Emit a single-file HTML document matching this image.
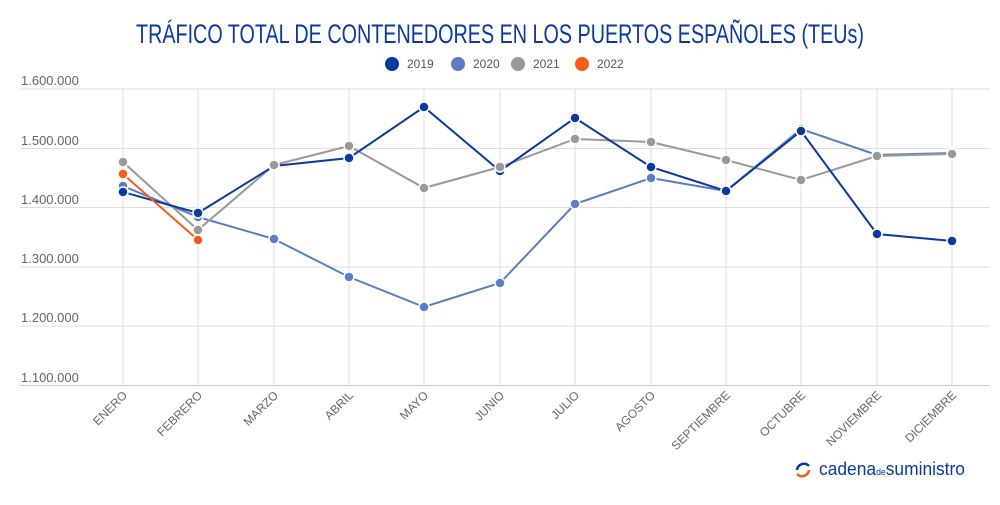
<!DOCTYPE html>
<html><head><meta charset="utf-8"><style>
body{margin:0;background:#fff;width:1000px;height:500px;overflow:hidden;font-family:"Liberation Sans",sans-serif}
</style></head><body>
<svg width="1000" height="500" xmlns="http://www.w3.org/2000/svg" font-family="Liberation Sans, sans-serif">
<text x="500" y="43" text-anchor="middle" font-size="27" fill="#0a3a9e" textLength="728" lengthAdjust="spacingAndGlyphs" font-family="Liberation Sans Narrow, Liberation Sans, sans-serif">TRÁFICO TOTAL DE CONTENEDORES EN LOS PUERTOS ESPAÑOLES (TEUs)</text>
<g font-size="12" fill="#555" font-weight="bold">
<circle cx="392" cy="64" r="7" fill="#0a3a9e"/><text x="407" y="68" font-weight="normal">2019</text>
<circle cx="458" cy="64" r="7" fill="#5b7dc4"/><text x="473" y="68" font-weight="normal">2020</text>
<circle cx="518" cy="64" r="7" fill="#999"/><text x="533" y="68" font-weight="normal">2021</text>
<circle cx="582" cy="64" r="7" fill="#fa5a1a"/><text x="597" y="68" font-weight="normal">2022</text>
</g>
<g stroke="#ddd" stroke-width="1">
<line x1="20" x2="990" y1="89" y2="89"/><line x1="20" x2="990" y1="148.5" y2="148.5"/><line x1="20" x2="990" y1="207.5" y2="207.5"/><line x1="20" x2="990" y1="267" y2="267"/><line x1="20" x2="990" y1="326" y2="326"/><line x1="20" x2="990" y1="385.5" y2="385.5" stroke="#ccc"/>
<line x1="123" x2="123" y1="89" y2="385"/><line x1="198" x2="198" y1="89" y2="385"/><line x1="274" x2="274" y1="89" y2="385"/><line x1="349" x2="349" y1="89" y2="385"/><line x1="424" x2="424" y1="89" y2="385"/><line x1="500" x2="500" y1="89" y2="385"/><line x1="575" x2="575" y1="89" y2="385"/><line x1="651" x2="651" y1="89" y2="385"/><line x1="726" x2="726" y1="89" y2="385"/><line x1="801" x2="801" y1="89" y2="385"/><line x1="877" x2="877" y1="89" y2="385"/><line x1="952" x2="952" y1="89" y2="385"/>
</g>
<g font-size="13" fill="#666">
<text x="21" y="85">1.600.000</text><text x="21" y="145">1.500.000</text><text x="21" y="204">1.400.000</text><text x="21" y="263">1.300.000</text><text x="21" y="322">1.200.000</text><text x="21" y="382">1.100.000</text>
</g>
<g font-size="12" fill="#666" text-anchor="end">
<text transform="translate(128,396) rotate(-45)">ENERO</text>
<text transform="translate(203,396) rotate(-45)">FEBRERO</text>
<text transform="translate(279,396) rotate(-45)">MARZO</text>
<text transform="translate(354,396) rotate(-45)">ABRIL</text>
<text transform="translate(429,396) rotate(-45)">MAYO</text>
<text transform="translate(505,396) rotate(-45)">JUNIO</text>
<text transform="translate(580,396) rotate(-45)">JULIO</text>
<text transform="translate(656,396) rotate(-45)">AGOSTO</text>
<text transform="translate(731,396) rotate(-45)">SEPTIEMBRE</text>
<text transform="translate(806,396) rotate(-45)">OCTUBRE</text>
<text transform="translate(882,396) rotate(-45)">NOVIEMBRE</text>
<text transform="translate(957,396) rotate(-45)">DICIEMBRE</text>
</g>
<g fill="none" stroke-width="2">
<polyline stroke="#5b7dc4" points="123,186 198,217 274,239 349,277 424,307 500,283 575,204 651,178 726,191 801,129 877,155 952,153"/>
<polyline stroke="#999" points="123,162 198,230 274,165 349,146 424,188 500,167 575,139 651,142 726,160 801,180 877,156 952,154"/>
<polyline stroke="#0a3a9e" points="123,192 198,213 274,166 349,158 424,107 500,171 575,118 651,167 726,191 801,131 877,234 952,241"/>
<polyline stroke="#fa5a1a" points="123,174 198,240"/>
</g>
<g stroke="#fff" stroke-width="1.5">
<g fill="#5b7dc4"><circle cx="123" cy="186" r="5"/><circle cx="198" cy="217" r="5"/><circle cx="274" cy="239" r="5"/><circle cx="349" cy="277" r="5"/><circle cx="424" cy="307" r="5"/><circle cx="500" cy="283" r="5"/><circle cx="575" cy="204" r="5"/><circle cx="651" cy="178" r="5"/><circle cx="726" cy="191" r="5"/><circle cx="801" cy="129" r="5"/><circle cx="877" cy="155" r="5"/><circle cx="952" cy="153" r="5"/></g>
<g fill="#0a3a9e"><circle cx="123" cy="192" r="5"/><circle cx="198" cy="213" r="5"/><circle cx="274" cy="166" r="5"/><circle cx="349" cy="158" r="5"/><circle cx="424" cy="107" r="5"/><circle cx="500" cy="171" r="5"/><circle cx="575" cy="118" r="5"/><circle cx="651" cy="167" r="5"/><circle cx="726" cy="191" r="5"/><circle cx="801" cy="131" r="5"/><circle cx="877" cy="234" r="5"/><circle cx="952" cy="241" r="5"/></g>
<g fill="#999"><circle cx="123" cy="162" r="5"/><circle cx="198" cy="230" r="5"/><circle cx="274" cy="165" r="5"/><circle cx="349" cy="146" r="5"/><circle cx="424" cy="188" r="5"/><circle cx="500" cy="167" r="5"/><circle cx="575" cy="139" r="5"/><circle cx="651" cy="142" r="5"/><circle cx="726" cy="160" r="5"/><circle cx="801" cy="180" r="5"/><circle cx="877" cy="156" r="5"/><circle cx="952" cy="154" r="5"/></g>
<g fill="#fa5a1a"><circle cx="123" cy="174" r="5"/><circle cx="198" cy="240" r="5"/></g>
</g>
<path d="M797,470 a7,7 0 0 1 12,-4" stroke="#0a3a9e" stroke-width="2.5" fill="none"/>
<path d="M809,470 a7,7 0 0 1 -12,4" stroke="#fa5a1a" stroke-width="2.5" fill="none"/>
<text x="819" y="475" font-size="18" fill="#0a3a9e" textLength="146" lengthAdjust="spacingAndGlyphs">cadena<tspan font-size="9">de</tspan>suministro</text>
</svg>
</body></html>
